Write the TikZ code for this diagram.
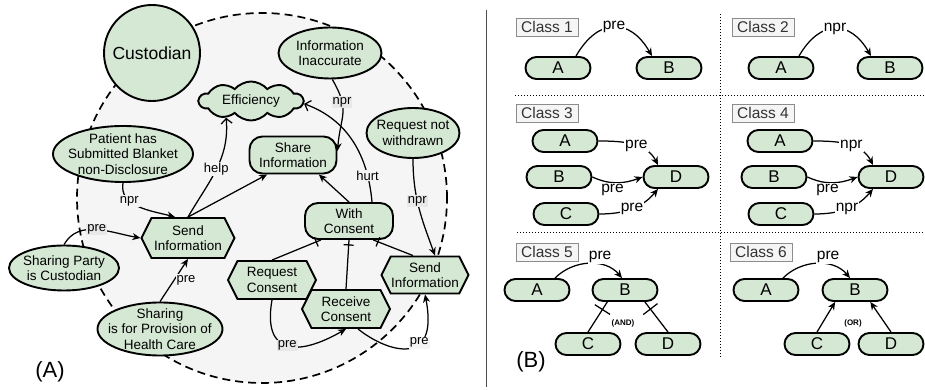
\documentclass[tikz,border=0pt]{standalone}
\usepackage{fontspec}
\setmainfont{Liberation Sans}
\usepackage{tikz}
\usetikzlibrary{arrows.meta, shapes.geometric, shapes.symbols, decorations.markings, positioning}
\definecolor{goalfill}{HTML}{D5E8D4}
\definecolor{scopebg}{HTML}{F5F5F5}
\definecolor{tagbg}{HTML}{E8E8E8}
\definecolor{classline}{HTML}{8C8C8C}
\definecolor{classtext}{HTML}{333333}
\newcommand{\atxt}{\fontsize{13.5}{15.5}\selectfont}

\begin{document}
\begin{tikzpicture}[x=1pt, y=1pt]
\tikzset{
  goal/.style={ellipse, draw, line width=1.9pt, fill=goalfill, inner sep=0pt},
  soft/.style={cloud, cloud puffs=10, cloud puff arc=100, cloud ignores aspect,
    draw, line width=1.9pt, fill=goalfill, inner sep=0pt},
  task/.style={signal, signal to=east and west, signal pointer angle=127, draw,
    line width=1.9pt, fill=goalfill, inner sep=0.5pt, minimum width=88pt,
    minimum height=38pt, align=center, font=\atxt},
  res/.style={rectangle, rounded corners=13pt, draw, line width=1.9pt, fill=goalfill,
    minimum width=87pt, minimum height=37pt, align=center, font=\atxt},
  pill/.style={rectangle, rounded corners=11pt, draw, line width=1.9pt, fill=goalfill,
    minimum width=65pt, minimum height=22pt, inner sep=0pt, font=\fontsize{17}{17}\selectfont},
  txt/.style={align=center, font=\atxt, inner sep=0pt},
  link/.style={line width=1.25pt, -{Stealth[length=8pt, width=7pt, inset=2.5pt]}},
  contrib/.style={line width=1.25pt, -{Straight Barb[length=5pt, width=11pt]}},
  andlink/.style={line width=1.25pt, postaction={decorate}, decoration={markings,
    mark=at position -#1 with {\draw[line width=1.25pt] (0,-#1) -- (0,#1);}}},
  tagA/.style={font=\fontsize{13}{13}\selectfont, inner sep=1pt, fill=scopebg},
  taggray/.style={tagA, fill=tagbg},
  tagB/.style={font=\fontsize{15.5}{15.5}\selectfont, inner sep=1pt, fill=white},
  classbox/.style={draw=classline, fill=scopebg, text=classtext, font=\fontsize{15.5}{15.5}\selectfont,
    minimum width=62pt, minimum height=18pt, inner sep=1pt},
}
\useasboundingbox (0,0) rectangle (925,390);

% (A): the custodian's boundary
\draw[fill=scopebg, line width=1.7pt, dash pattern=on 8pt off 5pt] (262,192) circle (185);
\node[circle, draw, line width=1.9pt, fill=goalfill, minimum size=96pt, inner sep=0pt,
  font=\fontsize{17.5}{17.5}\selectfont] (cust) at (152,337) {Custodian};

% goals, softgoal, tasks, resources
\node[goal, minimum width=103pt, minimum height=51pt] (info) at (330,337) {};
\node[txt] (info-t) at (info) {Information\\Inaccurate};
\node[soft, minimum width=104pt, minimum height=39pt] (eff) at (251,289) {};
\node[txt] (eff-t) at (eff) {Efficiency};
\node[res] (share) at (293,235) {Share\\Information};
\node[goal, minimum width=93pt, minimum height=50pt] (rnw) at (413,257) {};
\node[txt] (rnw-t) at (rnw) {Request not\\withdrawn};
\node[goal, minimum width=140pt, minimum height=56pt] (pat) at (123,236) {};
\node[txt] (pat-t) at (pat) {Patient has\\Submitted Blanket\\non-Disclosure};
\node[task, minimum width=93pt, minimum height=40pt] (send1) at (188,152) {Send\\Information};
\node[goal, minimum width=110pt, minimum height=45pt] (party) at (64,122) {};
\node[txt] (party-t) at (party) {Sharing Party\\is Custodian};
\node[goal, minimum width=125pt, minimum height=53pt] (prov) at (160,61) {};
\node[txt] (prov-t) at (prov) {Sharing\\is for Provision of\\Health Care};
\node[res, minimum width=88pt, minimum height=36pt] (withc) at (349,169) {With\\Consent};
\node[task] (reqc) at (272,110) {Request\\Consent};
\node[task] (recc) at (346,81) {Receive\\Consent};
\node[task, minimum width=87pt, minimum height=37pt] (send2) at (425,115) {Send\\Information};
\node[font=\fontsize{22}{22}\selectfont] (lblA) at (50,18) {(A)};

% links in (A)
\draw[link] (info.-85) to[out=-60, in=85, looseness=1.3] node[taggray, pos=.3] {npr} ([yshift=4pt]share.east);
\draw[contrib] (send1.north) to[out=60, in=-85] node[tagA] {help} (eff.214);
\draw[contrib] ([xshift=23pt]withc.north) to[out=95, in=-20] node[tagA, pos=.2] {hurt} (eff.-3);
\draw[link] (send1.north) -- (share.217);
\draw[link] (withc.north) -- (share.-37);
\draw[link] (pat.south) to[out=-100, in=165] node[tagA, pos=.33] {npr} ([xshift=-13pt]send1.north);
\draw[link] (party.north) to[out=60, in=170] node[taggray, pos=.5] {pre} (send1.west);
\draw[link] (prov.north) -- node[tagA, right=1pt] {pre} (send1.south);
\draw[andlink=5pt] (reqc.north) -- (withc.214);
\draw[andlink=5pt] (recc.north) -- (withc.south);
\draw[andlink=5pt] ([xshift=-12pt]send2.north) -- (withc.-38);
\draw[link] (reqc.south) to[out=-100, in=-150, looseness=1.8] node[taggray] {pre} (recc.south);
\draw[link] ([xshift=12pt]recc.south) to[out=-39, in=-79, out looseness=1.2, in looseness=2.6]
  node[tagA, pos=.65] {pre} (send2.south);
\draw[link] (rnw.south) to[out=-90, in=110] node[taggray, pos=.42] {npr} ([xshift=10pt]send2.north);

% (B): separators
\draw[draw=black!70, line width=0.8pt, double=white, double distance=2pt] (487.5,3) -- (487.5,380);
\draw[line width=1pt, dash pattern=on 1pt off 2pt] (515,294) -- (925,294);
\draw[line width=1pt, dash pattern=on 1pt off 2pt] (517,157) -- (925,157);
\draw[line width=1pt, dash pattern=on 1pt off 2pt] (720,376) -- (720,33);

% Class 1 and 2
\node[classbox] (cl1) at (547,363) {Class 1};
\node[pill] (a1) at (558,322) {A};
\node[pill] (b1) at (669,322) {B};
\draw[link] ([xshift=18pt]a1.north) to[out=60, in=120, looseness=1.5] node[tagB] {pre} ([xshift=-17pt]b1.north);
\node[classbox] (cl2) at (763,363) {Class 2};
\node[pill] (a2) at (781,322) {A};
\node[pill] (b2) at (890,322) {B};
\draw[link] ([xshift=18pt]a2.north) to[out=60, in=120, looseness=1.5] node[tagB] {npr} ([xshift=-19pt]b2.north);

% Class 3 and 4
\node[classbox] (cl3) at (547,277) {Class 3};
\node[pill] (a3) at (565,249) {A};
\node[pill] (b3) at (559,213) {B};
\node[pill] (c3) at (566,176) {C};
\node[pill] (d3) at (676,213) {D};
\draw[link] (a3.east) to[out=0, in=117] node[tagB, pos=.55] {pre} ([xshift=-18pt]d3.north);
\draw[link] (b3.east) to[out=-25, in=200] node[tagB, pos=.4, yshift=-7pt] {pre} (d3.west);
\draw[link] (c3.east) to[out=0, in=-130] node[tagB, pos=.5] {pre} ([xshift=-18pt]d3.south);
\node[classbox] (cl4) at (763,277) {Class 4};
\node[pill] (a4) at (780,249) {A};
\node[pill] (b4) at (774,213) {B};
\node[pill] (c4) at (781,176) {C};
\node[pill] (d4) at (891,213) {D};
\draw[link] (a4.east) to[out=0, in=117] node[tagB, pos=.55] {npr} ([xshift=-18pt]d4.north);
\draw[link] (b4.east) to[out=-25, in=200] node[tagB, pos=.4, yshift=-7pt] {pre} (d4.west);
\draw[link] (c4.east) to[out=0, in=-130] node[tagB, pos=.5] {npr} ([xshift=-18pt]d4.south);

% Class 5 and 6
\node[classbox] (cl5) at (547,138) {Class 5};
\node[pill] (a5) at (537,100) {A};
\node[pill] (b5) at (625,100) {B};
\node[pill] (c5) at (588,46) {C};
\node[pill] (d5) at (668,46) {D};
\draw[link] ([xshift=18pt]a5.north) to[out=45, in=130] node[tagB, above, pos=.65] {pre} ([xshift=-3pt]b5.north);
\draw[andlink=9pt] (c5.north) -- (b5.214);
\draw[andlink=9pt] (d5.north) -- (b5.-31);
\node[font=\bfseries\fontsize{8}{8}\selectfont] (and5) at (623,67) {(AND)};
\node[classbox] (cl6) at (761,138) {Class 6};
\node[pill] (a6) at (766,100) {A};
\node[pill] (b6) at (855,100) {B};
\node[pill] (c6) at (817,46) {C};
\node[pill] (d6) at (891,46) {D};
\draw[link] ([xshift=17pt]a6.north) to[out=45, in=130] node[tagB, above, pos=.65] {pre} ([xshift=-5pt]b6.north);
\draw[link] (c6.north) -- (b6.211);
\draw[link] (d6.north) -- (b6.-38);
\node[font=\bfseries\fontsize{8}{8}\selectfont] (or6) at (853,67) {(OR)};
\node[font=\fontsize{22}{22}\selectfont] (lblB) at (531,28) {(B)};
\end{tikzpicture}
\end{document}
